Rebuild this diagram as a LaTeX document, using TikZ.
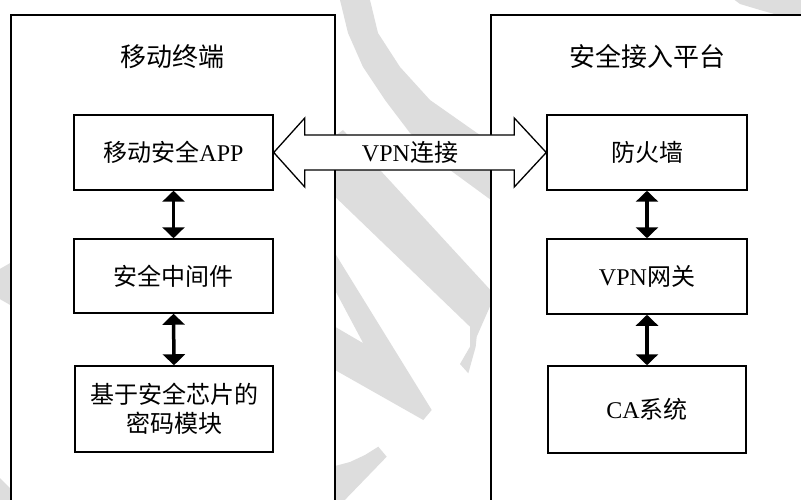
\documentclass[tikz,border=0pt]{standalone}
\usepackage{fontspec}
\setmainfont{Liberation Serif}
\newfontfamily\cjk{Noto Sans CJK SC}
\usetikzlibrary{arrows.meta,calc}
\definecolor{wmgray}{RGB}{221,221,221}
\tikzset{
  panel/.style={draw, line width=1.3pt, fill=white, inner sep=0pt,
    minimum height=505pt},
  block/.style={draw, line width=1.5pt, fill=white, inner sep=0pt,
    align=center, minimum width=199pt, minimum height=75pt,
    font=\fontsize{24}{29}\selectfont},
  heading/.style={inner sep=0pt, font=\cjk\fontsize{26}{30}\selectfont},
  duplex/.style={line width=3.5pt,
    {Triangle[width=22pt,length=11pt]}-{Triangle[width=22pt,length=11pt]}},
  tunnel/.style={draw, line width=1.3pt, fill=white, line join=miter},
  wm/.style={fill=wmgray, draw=none}
}
\begin{document}
\begin{tikzpicture}[x=1pt, y=-1pt]
\clip (0,0) rectangle (801,500);
\fill[white] (0,0) rectangle (801,500);

% light grey background marks
\fill[wm] (340,-5) -- (340,0) -- (348,33) -- (363,67) -- (385,100) -- (410,133)
  -- (450,170) -- (491,200) -- (500,206) -- (500,148) -- (477,133) -- (430,100)
  -- (400,67) -- (378,33) -- (370,0) -- (369,-5) -- cycle;
\fill[wm] (728,-5) -- (801,-5) -- (801,17) -- (785,17) -- (760,10) -- (740,4) -- cycle;
\fill[wm] (300,163) -- (343,130) -- (380,170) -- (495,295) -- (476.7,336.7)
  -- (475.7,346.7) -- (468.3,373.3) -- (460,364) -- (470,346.7) -- (470,326.7) -- cycle;
\fill[wm] (320,229) -- (431.7,410) -- (423.3,420) -- (320,361.5) -- (320,318)
  -- (363.3,343.3) -- (320,262) -- cycle;
\fill[wm] (320,470) -- (350,462) -- (365,455) -- (378.3,446.7) -- (386.7,456.7)
  -- (340,505) -- (320,505) -- cycle;
\fill[wm] (-2,270) -- (12,262) -- (12,306) -- (-2,298) -- cycle;
\fill[wm] (-2,476) -- (12,490) -- (12,502) -- (-2,502) -- cycle;

% the two sides
\node[panel, minimum width=324pt] (term) at (173,267.5) {};
\node[panel, minimum width=330pt] (plat) at (656,267.5) {};
\node[heading] (termtitle) at (172,57) {移动终端};
\node[heading] (plattitle) at (647.5,57) {安全接入平台};

% mobile terminal
\node[block] (app) at (173.5,152.5) {{\cjk 移动安全}APP};
\node[block, minimum height=74pt] (mid) at (173.5,276) {\cjk 安全中间件};
\node[block, minimum width=198pt, minimum height=86pt,
  font=\cjk\fontsize{24}{29}\selectfont] (chip) at (174,409) {基于安全芯片的\\密码模块};

% access platform
\node[block, minimum width=200pt] (fw) at (647,152.5) {\cjk 防火墙};
\node[block, minimum width=200pt] (gw) at (647,276.5) {VPN{\cjk 网关}};
\node[block, minimum width=198pt, minimum height=87pt] (ca) at (647,409.5) {CA{\cjk 系统}};

% internal links
\draw[duplex] (app.south) -- (mid.north);
\draw[duplex] (mid.south) -- (chip.north);
\draw[duplex] (fw.south) -- (gw.north);
\draw[duplex] (gw.south) -- (ca.north);

% VPN tunnel between the two sides
\draw[tunnel] (app.east) -- ($(app.east)+(31,-34.5)$) -- ($(app.east)+(31,-17.5)$)
  -- ($(fw.west)+(-32,-17.5)$) -- ($(fw.west)+(-32,-34.5)$) -- (fw.west)
  -- ($(fw.west)+(-32,34.5)$) -- ($(fw.west)+(-32,17.5)$)
  -- ($(app.east)+(31,17.5)$) -- ($(app.east)+(31,34.5)$) -- cycle;
\node[inner sep=0pt, font=\fontsize{24}{29}\selectfont] (vpn) at ($(app.east)!0.5!(fw.west)$) {VPN{\cjk 连接}};
\end{tikzpicture}
\end{document}
